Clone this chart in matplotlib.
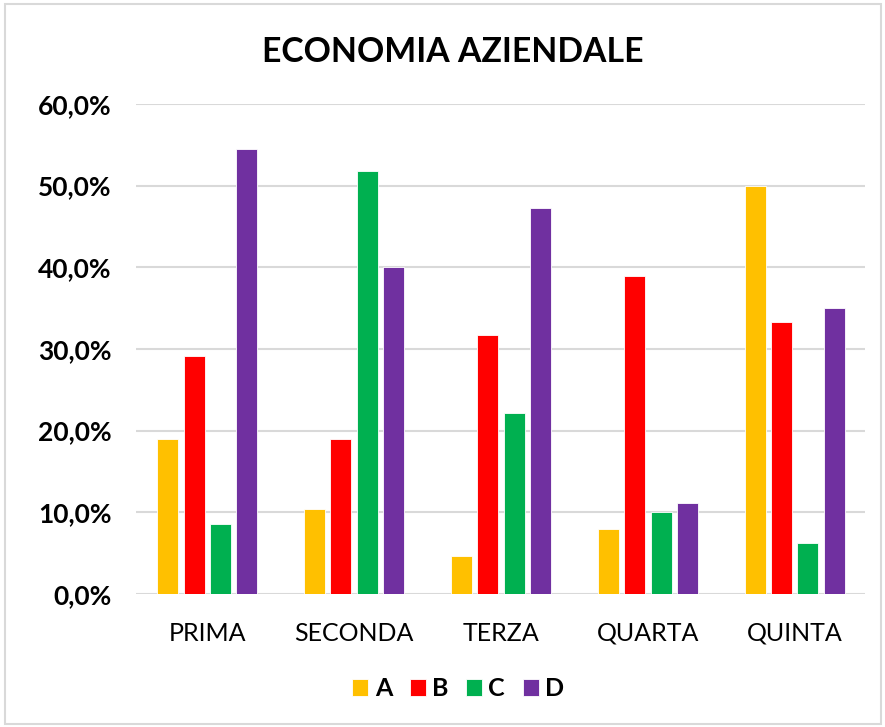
import matplotlib.pyplot as plt
from matplotlib.patches import Rectangle
from matplotlib.ticker import FuncFormatter
import numpy as np

plt.rcParams['font.family'] = ['Lato', 'DejaVu Sans']

classi = ["PRIMA", "SECONDA", "TERZA", "QUARTA", "QUINTA"]
serie = ["A", "B", "C", "D"]
val_a = [19.0, 10.4, 4.7, 8.0, 50.0]
val_b = [29.1, 19.0, 31.7, 38.9, 33.3]
val_c = [8.6, 51.8, 22.2, 10.0, 6.3]
val_d = [54.5, 40.0, 47.3, 11.1, 35.0]
colori = ["#FFC000", "#FF0000", "#00B050", "#7030A0"]

fig = plt.figure(figsize=(8.85, 7.27), dpi=100)
ax = fig.add_axes([0.154, 0.183, 0.823, 0.674])

# chart border like excel
fig.patches.append(Rectangle((0.006, 0.004), 0.99, 0.99, transform=fig.transFigure,
                             fill=False, edgecolor="#d9d9d9", linewidth=1.5))

x = np.arange(len(classi))
offsets = [-0.27, -0.09, 0.09, 0.27]
for vals, off, col, nome in zip([val_a, val_b, val_c, val_d], offsets, colori, serie):
    ax.bar(x + off, np.array(vals) / 100, width=0.143, color=col, label=nome,
           edgecolor="white", linewidth=0.6, zorder=3)

ax.set_ylim(0, 0.6)
ax.set_xlim(-0.483, 4.476)
ax.set_yticks(np.arange(0, 0.61, 0.1))
ax.yaxis.set_major_formatter(FuncFormatter(lambda v, p: f"{v*100:.1f}%".replace(".", ",")))
ax.grid(axis="y", color="#d9d9d9", linewidth=1.5, zorder=0)
ax.set_xticks(x)
ax.set_xticklabels(classi, fontsize=18)
for lab in ax.get_yticklabels():
    lab.set_fontsize(19)
    lab.set_fontweight("bold")
ax.tick_params(length=0)
ax.tick_params(axis="y", pad=18)
ax.tick_params(axis="x", pad=20)
for s in ax.spines.values():
    s.set_visible(False)

fig.suptitle("ECONOMIA AZIENDALE", x=0.512, y=0.95, fontsize=24.3, fontweight="bold")

ax.legend(loc="center", bbox_to_anchor=(0.442, -0.193), ncol=4, frameon=False,
          prop={"size": 18, "weight": "bold"}, handlelength=0.65, handleheight=0.65,
          handletextpad=0.25, columnspacing=0.7)

fig.savefig("out.png", dpi=100)
